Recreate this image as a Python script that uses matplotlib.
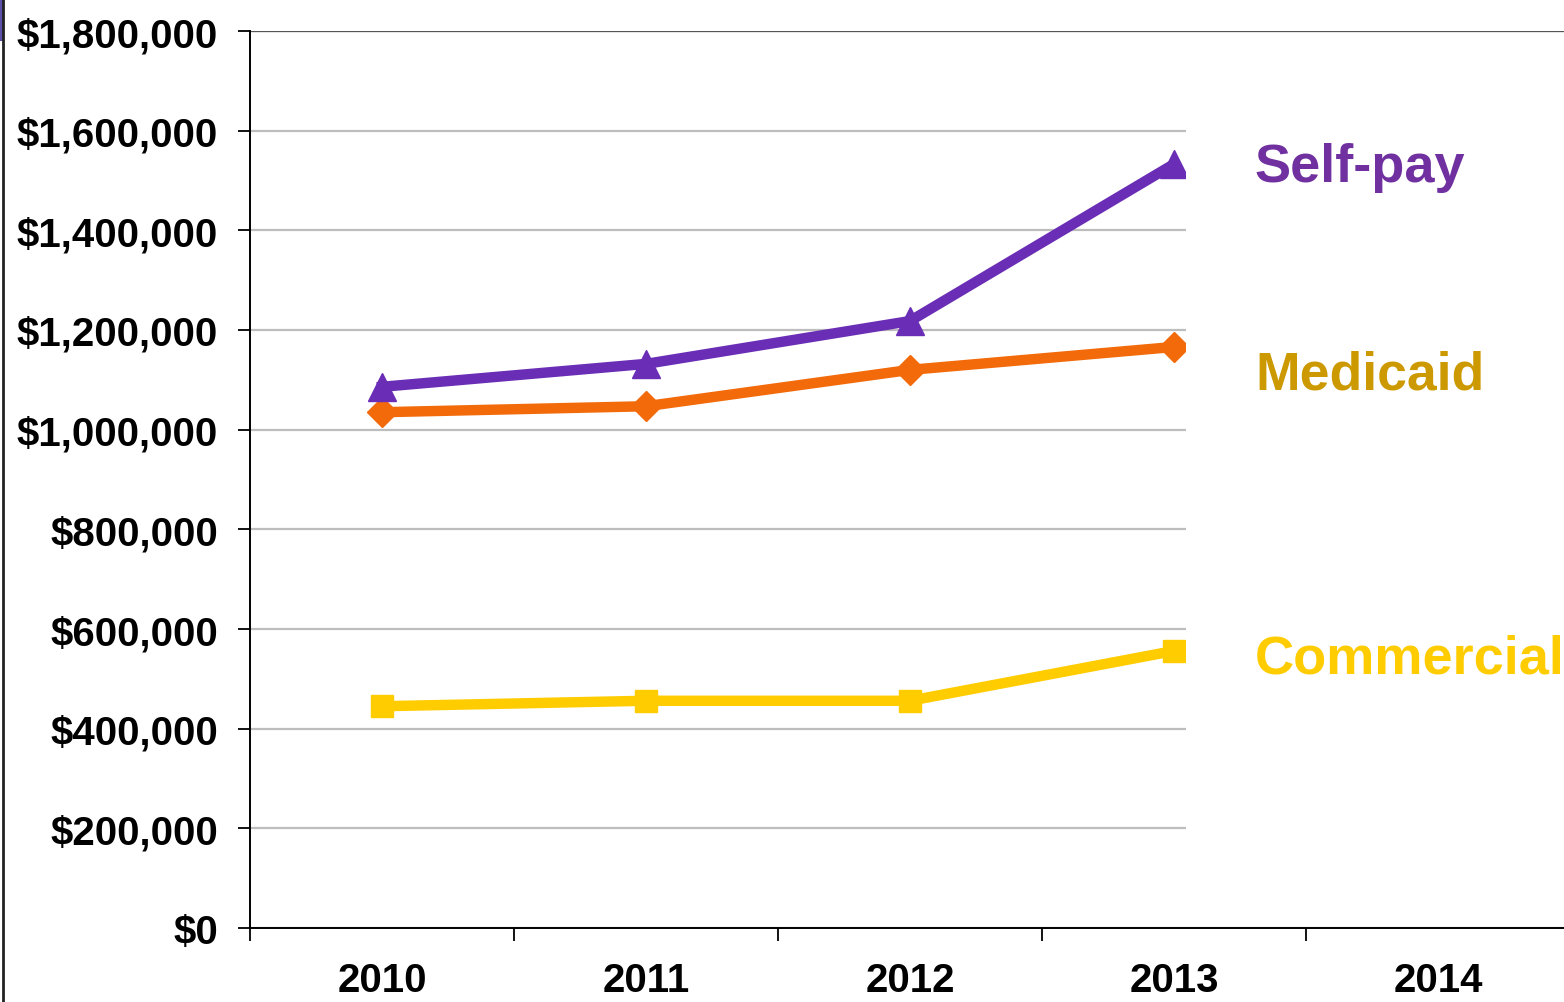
import matplotlib
matplotlib.use('Agg')
import matplotlib.pyplot as plt
from matplotlib.patches import Rectangle
from matplotlib.lines import Line2D
from matplotlib.ticker import FuncFormatter, MultipleLocator, FixedLocator

# Payer totals by year
years = ['2010', '2011', '2012', '2013', '2014']
self_pay = [1086000, 1132000, 1218000, 1533000]
medicaid = [1035000, 1047000, 1120000, 1166000]
commercial = [445000, 456000, 456000, 556000]

W, H = 1564, 1003
fig = plt.figure(figsize=(W / 100, H / 100), dpi=100)
fig.patch.set_facecolor('white')

narrow = ['Liberation Sans Narrow', 'Liberation Sans', 'DejaVu Sans']
wide = ['Liberation Sans', 'DejaVu Sans']

# axes box in pixels: left 250, top 32, bottom 929, one category = 264 px
left, top, bottom, cat_w = 250, 32, 929, 264
ax = fig.add_axes([left / W, 1 - bottom / H, cat_w * len(years) / W, (bottom - top) / H])

x = list(range(len(self_pay)))
ax.plot(x, self_pay, color='#6A2DB5', lw=7.5, marker='^', ms=20, zorder=4, solid_joinstyle='round')
ax.plot(x, medicaid, color='#F26A0A', lw=7.5, marker='D', ms=15, zorder=3, solid_joinstyle='round')
ax.plot(x, commercial, color='#FFCC00', lw=7.5, marker='s', ms=16, zorder=3, solid_joinstyle='round')

ax.set_xlim(-0.5, len(years) - 0.5)
ax.set_ylim(0, 1800000)
ax.yaxis.set_major_locator(MultipleLocator(200000))
ax.yaxis.set_major_formatter(FuncFormatter(lambda v, p: '${:,.0f}'.format(v)))
ax.grid(axis='y', color='#BDBDBD', lw=1.6, zorder=0)
ax.set_axisbelow(True)

ax.set_xticks(range(len(years)))
ax.set_xticklabels(years)
ax.xaxis.set_minor_locator(FixedLocator([i - 0.5 for i in range(len(years) + 1)]))
ax.tick_params(axis='x', which='major', length=0, pad=24)
ax.tick_params(axis='x', which='minor', length=9, width=1.3, direction='out')
ax.tick_params(axis='y', length=9, width=1.3, pad=14)
for lab in ax.get_xticklabels() + ax.get_yticklabels():
    lab.set_family(narrow)
    lab.set_fontweight('bold')
    lab.set_fontsize(29)

for s in ['top', 'right']:
    ax.spines[s].set_visible(False)
for s in ['left', 'bottom']:
    ax.spines[s].set_linewidth(1.4)
    ax.spines[s].set_color('black')
ax.axhline(1800000, color='#555555', lw=1.6, zorder=1)

# white panel carrying the series names
fig.add_artist(Rectangle((1186 / W, 1 - 848 / H), (W - 1186) / W, (848 - 58) / H,
                         transform=fig.transFigure, facecolor='white', edgecolor='none', zorder=2))
fig.text(1255 / W, 1 - 168 / H, 'Self-pay', color='#7030A0', fontsize=39, fontweight='bold',
         family=wide, va='center', zorder=3)
fig.text(1255 / W, 1 - 375 / H, 'Medicaid', color='#CC9900', fontsize=38.5, fontweight='bold',
         family=wide, va='center', zorder=3)
fig.text(1255 / W, 1 - 660 / H, 'Commercial', color='#FFCC00', fontsize=39, fontweight='bold',
         family=wide, va='center', zorder=3)

# slide frame on the left edge
fig.add_artist(Line2D([3 / W, 3 / W], [0, 1], transform=fig.transFigure, color='#222222', lw=2))
fig.add_artist(Rectangle((0, 1 - 42 / H), 3 / W, 42 / H, transform=fig.transFigure,
                         facecolor='#5B4FA8', edgecolor='none'))

fig.savefig('out.png', dpi=100)
